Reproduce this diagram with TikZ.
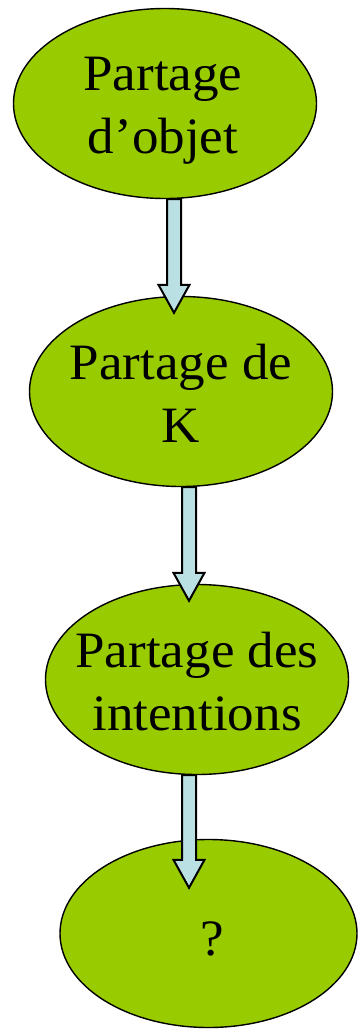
\documentclass[tikz,border=0pt]{standalone}
\usepackage{fontspec}
\setmainfont{Liberation Serif}[FakeStretch=1.04]
\usetikzlibrary{shapes.geometric,calc}
\definecolor{vertpomme}{HTML}{99CC00}
\definecolor{bleupale}{HTML}{BBE0E3}
\begin{document}
\begin{tikzpicture}[x=1pt,y=1pt]
		\tikzstyle{every node}+=[inner sep=0pt]
		\tikzstyle{bulle}=[ellipse,draw=black,line width=1.4pt,fill=vertpomme,minimum width=303pt,minimum height=190pt]
		\tikzstyle{texte}=[anchor=base,align=center,font=\fontsize{51}{63}\selectfont]
		\tikzstyle{fleche}=[draw=black,line width=2pt,fill=bleupale,line join=miter]
		\useasboundingbox (0,0) rectangle (358,-1029);
		\node [bulle] (objet) at (165,-103.5) {};
		\node [bulle] (conn) at (181,-391.5) {};
		\node [bulle] (inten) at (197,-679.5) {};
		\node [bulle,minimum width=297pt,minimum height=188pt] (quest) at (208.5,-933.5) {};
		\node [texte] (lobjet) at ([yshift=-50pt,xshift=-2pt]objet.center) {Partage\\d’objet};
		\node [texte] (lconn) at ([yshift=-51pt]conn.center) {Partage de\\K};
		\node [texte] (linten) at ([yshift=-51pt]inten.center) {Partage des\\intentions};
		\node [texte] (lquest) at ([yshift=-22pt,xshift=4pt]quest.center) {?};
		\coordinate (q1) at ([xshift=9pt]objet.south);
		\coordinate (p1) at ([xshift=-7pt,yshift=-17pt]conn.north);
		\coordinate (q2) at ([xshift=8pt]conn.south);
		\coordinate (p2) at ([xshift=-8pt,yshift=-17pt]inten.north);
		\coordinate (q3) at ([xshift=-8pt]inten.south);
		\coordinate (p3) at ([xshift=-19.5pt,yshift=-49pt]quest.north);
		\foreach \q/\p in {q1/p1,q2/p2,q3/p3}
			\draw [fleche] ($(\q)+(-7,0)$) -- ($(\p)+(-7,28)$) -- ($(\p)+(-15.5,28)$) -- (\p)
				-- ($(\p)+(15.5,28)$) -- ($(\p)+(7,28)$) -- ($(\q)+(7,0)$) -- cycle;
	\end{tikzpicture}
\end{document}
